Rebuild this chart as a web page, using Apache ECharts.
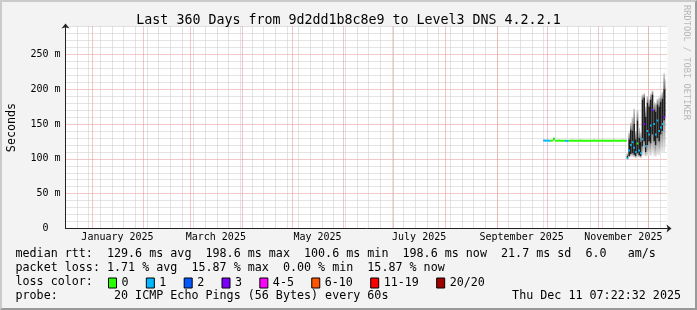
<!DOCTYPE html>
<html>
<head>
<meta charset="utf-8">
<script src="https://cdn.jsdelivr.net/npm/echarts@6/dist/echarts.min.js"></script>
<style>
html,body{margin:0;padding:0;background:#f3f3f3;overflow:hidden;}
#frame{position:absolute;left:0;top:0;width:697px;height:310px;box-sizing:border-box;
  border-top:2px solid #cbcbcb;border-left:2px solid #cbcbcb;border-right:2px solid #999;border-bottom:2px solid #999;background:#f3f3f3;}
#chart{position:absolute;left:0;top:0;width:697px;height:310px;}
</style>
</head>
<body>
<div id="frame"></div>
<div id="chart"></div>
<script>
// ---------------- data ----------------
const titleText = 'Last 360 Days from 9d2dd1b8c8e9 to Level3 DNS 4.2.2.1';
const endTime = '2025-12-11T07:22:32';
const spanDays = 360;
const firstDay = '2025-09-29';   // first day with measurements (one value per day)

const medianRtt = [
  126.3,126.1,126.2,126.0,126.1,126.2,129.0,126.1,126.0,126.2,
  126.1,126.0,126.1,125.9,125.6,126.0,126.1,126.2,126.0,126.1,
  126.0,126.1,126.2,126.0,126.1,126.0,125.9,126.1,126.0,126.1,
  126.2,126.0,126.1,126.0,126.1,126.2,126.0,126.1,126.0,126.1,
  126.0,126.1,126.2,126.0,126.1,126.0,126.1,126.2,126.0,126.1,
  101,112,120,124,116,110,122,112,108,128,150,118,140,135,148,170,150,135,155,140,145,150,160,198.6
];
// loss colour bin index (0:'0', 1:'1', 2:'2', 3:'3', 4:'4-5', 5:'6-10', 6:'11-19', 7:'20/20')
const lossBin = [
  1,1,1,1,0,0,0,0,0,0,
  0,0,0,1,1,0,0,0,0,0,
  0,0,0,0,0,0,0,0,0,0,
  0,0,0,0,0,0,0,0,0,0,
  0,0,0,0,0,0,0,0,0,0,
  1,1,1,1,1,1,0,1,1,1,3,1,1,1,1,3,1,1,1,1,1,1,3,4
];
const smokeMin = [
  125.5,125.3,125.4,125.2,125.3,125.4,126.0,125.3,125.2,125.4,
  125.3,125.2,125.3,125.1,124.8,125.2,125.3,125.4,125.2,125.3,
  125.2,125.3,125.4,125.2,125.3,125.2,125.1,125.3,125.2,125.3,
  125.4,125.2,125.3,125.2,125.3,125.4,125.2,125.3,125.2,125.3,
  125.2,125.3,125.4,125.2,125.3,125.2,125.3,125.4,125.2,125.3,
  100.6,102,103,103,102,101,103,102,101,104,105,103,104,105,104,108,104,103,106,105,108,110,110,115
];
const smokeLo = [
  126.0,125.8,125.9,125.7,125.8,125.9,128.2,125.8,125.7,125.9,
  125.8,125.7,125.8,125.6,125.3,125.7,125.8,125.9,125.7,125.8,
  125.7,125.8,125.9,125.7,125.8,125.7,125.6,125.8,125.7,125.8,
  125.9,125.7,125.8,125.7,125.8,125.9,125.7,125.8,125.7,125.8,
  125.7,125.8,125.9,125.7,125.8,125.7,125.8,125.9,125.7,125.8,
  100.8,104,107,108,106,104,108,105,104,118,125,110,120,125,122,135,125,120,130,125,135,140,155,160
];
const smokeHi = [
  126.7,126.5,126.6,126.4,126.5,126.6,129.8,126.5,126.4,126.6,
  126.5,126.4,126.5,126.3,126.0,126.4,126.5,126.6,126.4,126.5,
  126.4,126.5,126.6,126.4,126.5,126.4,126.3,126.5,126.4,126.5,
  126.6,126.4,126.5,126.4,126.5,126.6,126.4,126.5,126.4,126.5,
  126.4,126.5,126.6,126.4,126.5,126.4,126.5,126.6,126.4,126.5,
  104,128,142,140,150,128,155,130,125,185,188,160,180,175,185,192,170,168,178,175,182,186,200,200
];
const smokeMax = [
  127.3,127.1,127.2,127.0,127.1,127.2,130.5,127.1,127.0,127.2,
  127.1,127.0,127.1,126.9,126.6,127.0,127.1,127.2,127.0,127.1,
  127.0,127.1,127.2,127.0,127.1,127.0,126.9,127.1,127.0,127.1,
  127.2,127.0,127.1,127.0,127.1,127.2,127.0,127.1,127.0,127.1,
  127.0,127.1,127.2,127.0,127.1,127.0,127.1,127.2,127.0,127.1,
  108,138,152,160,172,140,170,145,138,192,194,175,190,186,193,198,182,180,186,188,192,196,223,215
];

const lossNames  = ['0','1','2','3','4-5','6-10','11-19','20/20'];
const lossColors = ['#26ff00','#00b8ff','#0059ff','#7e00ff','#ff00ff','#ff5500','#ff0000','#a10000'];

const yMax = 290;
const yLabelValues = [0,50,100,150,200,250];
const yLabelText   = ['0  ','50 m','100 m','150 m','200 m','250 m'];

const xLabelDates = ['2025-01-16T12:00:00','2025-03-16T12:00:00','2025-05-16T12:00:00','2025-07-16T12:00:00','2025-09-16T00:00:00','2025-11-16T00:00:00'];
const xLabelText  = ['January 2025','March 2025','May 2025','July 2025','September 2025','November 2025'];
const monthStarts = ['2025-01-01','2025-02-01','2025-03-01','2025-04-01','2025-05-01','2025-06-01',
                     '2025-07-01','2025-08-01','2025-09-01','2025-10-01','2025-11-01','2025-12-01'];
const firstWeekLine = '2024-12-23';

const statLines = [
  'median rtt:  129.6 ms avg  198.6 ms max  100.6 ms min  198.6 ms now  21.7 ms sd  6.0   am/s',
  'packet loss: 1.71 % avg  15.87 % max  0.00 % min  15.87 % now',
  'loss color:',
  'probe:        20 ICMP Echo Pings (56 Bytes) every 60s'
];
const probeTime = 'Thu Dec 11 07:22:32 2025';
const watermark = 'RRDTOOL / TOBI OETIKER';

// ---------------- helpers ----------------
const DAY = 86400000;
const ts = s => Date.parse(s.length === 10 ? s + 'T00:00:00Z' : s + 'Z');
const tEnd = ts(endTime);
const tStart = tEnd - spanDays * DAY;
const dayStart = i => ts(firstDay) + i * DAY;
const dayEnd = i => Math.min(dayStart(i) + DAY, tEnd);
const xLabelTimes = xLabelDates.map(ts);

const MONO = '"DejaVu Sans Mono", monospace';
const GRID_COL = '#c8c8c8';
const MGRID_COL = '#e89090';

const weekTimes = [];
for (let t = ts(firstWeekLine); t < tEnd; t += 7 * DAY) weekTimes.push(t);
const monthTimes = monthStarts.map(ts);

function vLine(color) {
  return function (params, api) {
    const cs = params.coordSys;
    const x = Math.round(api.coord([api.value(0), 0])[0]) + 0.5;
    if (x < cs.x || x > cs.x + cs.width) return null;
    return { type: 'line', silent: true,
      shape: { x1: x, y1: cs.y, x2: x, y2: cs.y + cs.height },
      style: { stroke: color, lineWidth: 1, lineDash: [1, 1] } };
  };
}

const smokeData = medianRtt.map((_, i) => [dayStart(i), dayEnd(i), smokeMin[i], smokeLo[i], smokeHi[i], smokeMax[i]]);
function renderSmoke(params, api) {
  const x0 = api.coord([api.value(0), 0])[0];
  const x1 = api.coord([api.value(1), 0])[0];
  const y = k => api.coord([api.value(0), api.value(k)])[1];
  const yMin = y(2), yLo = y(3), yHi = y(4), yTop = y(5);
  const w = x1 - x0;
  return { type: 'group', children: [
    { type: 'rect', shape: { x: x0, y: yLo, width: w, height: Math.max(0, yMin - yLo) },
      style: { fill: new echarts.graphic.LinearGradient(0, 0, 0, 1, [{ offset: 0, color: '#8a8a8a' }, { offset: 1, color: '#e8e8e8' }]) } },
    { type: 'rect', shape: { x: x0, y: yTop, width: w, height: Math.max(0, yHi - yTop) },
      style: { fill: new echarts.graphic.LinearGradient(0, 0, 0, 1, [{ offset: 0, color: '#d0d0d0' }, { offset: 1, color: '#6a6a6a' }]) } },
    { type: 'rect', shape: { x: x0, y: yHi, width: w, height: Math.max(0, yLo - yHi) },
      style: { fill: '#1e1e1e' } }
  ]};
}

const medianSeries = lossNames.map((name, b) => {
  const data = [];
  medianRtt.forEach((v, i) => {
    if (lossBin[i] === b) {
      data.push([dayStart(i), v], [dayEnd(i), v], [dayEnd(i), null]);
    }
  });
  return { type: 'line', name, data, symbol: 'none', showSymbol: false, connectNulls: false,
    silent: true, z: 6, animation: false,
    lineStyle: { color: lossColors[b], width: 2 }, itemStyle: { color: lossColors[b] } };
});

// ---------------- chart ----------------
const chart = echarts.init(document.getElementById('chart'), null, { renderer: 'canvas' });
chart.setOption({
  backgroundColor: 'transparent',
  animation: false,
  textStyle: { fontFamily: MONO },
  title: { text: titleText, left: 'center', top: 8,
    textStyle: { fontFamily: MONO, fontSize: 13.3, fontWeight: 'normal', color: '#000', lineHeight: 16 } },
  grid: { left: 65.5, top: 26.5, width: 602, height: 202, show: true, backgroundColor: '#ffffff', borderWidth: 0,
    containLabel: false, outerBoundsMode: 'none' },
  legend: {
    data: lossNames, left: 108, top: 277, padding: 0, icon: 'rect', itemWidth: 8, itemHeight: 10, itemGap: 17.3,
    selectedMode: false, itemStyle: { borderColor: '#000', borderWidth: 1 },
    textStyle: { fontFamily: MONO, fontSize: 11.7, color: '#000' }
  },
  xAxis: {
    type: 'value', min: tStart, max: tEnd + 1.2 * DAY, scale: true,
    axisLine: { show: true, onZero: false, lineStyle: { color: '#212121', width: 1 }, symbol: ['none', 'arrow'], symbolSize: [6, 5], symbolOffset: [0, 4] },
    axisTick: { show: false },
    splitLine: { show: false },
    axisLabel: {
      customValues: xLabelTimes, margin: 4, fontFamily: MONO, fontSize: 10, color: '#000', hideOverlap: false,
      formatter: v => {
        let best = 0;
        xLabelTimes.forEach((t, i) => { if (Math.abs(t - v) < Math.abs(xLabelTimes[best] - v)) best = i; });
        return Math.abs(xLabelTimes[best] - v) < DAY ? xLabelText[best] : '';
      }
    }
  },
  yAxis: {
    type: 'value', min: 0, max: yMax, interval: 10,
    name: 'Seconds', nameLocation: 'middle', nameRotate: 90, nameGap: 48,
    nameTextStyle: { fontFamily: MONO, fontSize: 11.7, color: '#000' },
    axisLine: { show: true, lineStyle: { color: '#212121', width: 1 }, symbol: ['none', 'arrow'], symbolSize: [6, 5], symbolOffset: [0, 3] },
    axisTick: { show: false },
    axisLabel: { margin: 5, fontFamily: MONO, fontSize: 10, color: '#000',
      formatter: v => { const i = yLabelValues.indexOf(v); return i >= 0 ? yLabelText[i] : ''; } },
    splitLine: { show: true, lineStyle: { color: [MGRID_COL, GRID_COL, GRID_COL, GRID_COL, GRID_COL], type: [1, 1], width: 1 } }
  },
  graphic: [
    { type: 'text', x: 15.5, y: 254.3, silent: true, style: { text: statLines[0], font: '11.7px ' + MONO, fill: '#000', verticalAlign: 'middle' } },
    { type: 'text', x: 15.5, y: 268.3, silent: true, style: { text: statLines[1], font: '11.7px ' + MONO, fill: '#000', verticalAlign: 'middle' } },
    { type: 'text', x: 15.5, y: 282,   silent: true, style: { text: statLines[2], font: '11.7px ' + MONO, fill: '#000', verticalAlign: 'middle' } },
    { type: 'text', x: 15.5, y: 296,   silent: true, style: { text: statLines[3], font: '11.7px ' + MONO, fill: '#000', verticalAlign: 'middle' } },
    { type: 'text', x: 681,  y: 296,   silent: true, style: { text: probeTime, font: '11.7px ' + MONO, fill: '#000', align: 'right', verticalAlign: 'middle' } },
    { type: 'text', x: 686,  y: 5, rotation: -Math.PI / 2, silent: true,
      style: { text: watermark, font: '8.7px ' + MONO, fill: '#b8b8b8', align: 'left', verticalAlign: 'middle' } }
  ],
  series: [
    { type: 'custom', name: 'week-grid', data: weekTimes, dimensions: ['t'], renderItem: vLine(GRID_COL), encode: { x: 0 }, z: 1, silent: true, clip: false },
    { type: 'custom', name: 'month-grid', data: monthTimes, dimensions: ['t'], renderItem: vLine(MGRID_COL), encode: { x: 0 }, z: 1, silent: true, clip: false },
    { type: 'custom', name: 'smoke', data: smokeData, renderItem: renderSmoke, encode: { x: [0, 1], y: [2, 3, 4, 5] }, z: 3, silent: true, clip: true },
    ...medianSeries
  ]
});
</script>
</body>
</html>
